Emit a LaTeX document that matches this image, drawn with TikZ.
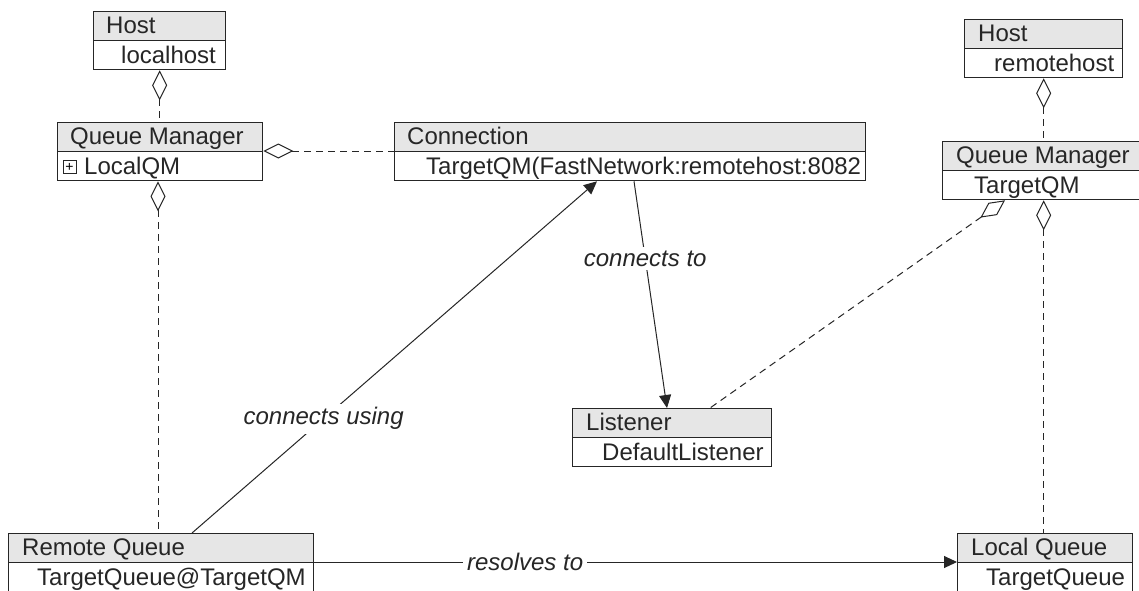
\documentclass[tikz,border=0pt]{standalone}
\usepackage{fontspec}
\setmainfont{Liberation Sans}
\usetikzlibrary{arrows.meta,calc}
\definecolor{hdr}{HTML}{E6E6E6}
\definecolor{ink}{HTML}{262626}
\tikzset{
  umlbox/.style={draw=ink, line width=1.3pt, anchor=north west, minimum height=58pt, inner sep=0pt,
    path picture={\fill[hdr] (path picture bounding box.north west) rectangle ([yshift=-29pt]path picture bounding box.north east);
      \draw[ink, line width=1.3pt] ([yshift=-29pt]path picture bounding box.north west) -- ([yshift=-29pt]path picture bounding box.north east);}},
  boxtext/.style={anchor=base west, inner sep=0pt, text=ink},
  aggr/.style={draw=ink, line width=1pt, dash pattern=on 7pt off 5pt, {Diamond[open, length=30pt, width=15pt, fill=white, line width=1pt]}-},
  assoc/.style={draw=ink, line width=1pt, -{Triangle[length=13pt, width=12pt]}},
  lbl/.style={fill=white, inner sep=4pt, text=ink, font=\fontsize{24}{28}\selectfont\itshape}
}
\begin{document}
\begin{tikzpicture}[x=1pt, y=-1pt, font=\fontsize{24}{28}\selectfont]
\clip (0,0) rectangle (1139,590);
\fill[white] (0,0) rectangle (1139,590);

% boxes
\node[umlbox, minimum width=132pt] (hostL) at (93,11) {};
\node[boxtext] (hostLt) at ([xshift=13pt,yshift=-22.5pt]hostL.north west) {Host};
\node[boxtext] (hostLv) at ([xshift=28pt,yshift=-52pt]hostL.north west) {localhost};

\node[umlbox, minimum width=205pt] (qmL) at (57,122) {};
\node[boxtext] (qmLt) at ([xshift=13pt,yshift=-22.5pt]qmL.north west) {Queue Manager};
\node[draw=ink, line width=0.7pt, minimum size=13pt, inner sep=0pt, font=\fontsize{14}{14}\selectfont] (qmLplus) at ([xshift=12.5pt,yshift=-45pt]qmL.north west) {+};
\node[boxtext] (qmLv) at ([xshift=27pt,yshift=-52pt]qmL.north west) {LocalQM};

\node[umlbox, minimum width=471pt] (conn) at (394,122) {};
\node[boxtext] (connt) at ([xshift=13pt,yshift=-22.5pt]conn.north west) {Connection};
\node[boxtext] (connv) at ([xshift=32pt,yshift=-52pt]conn.north west) {TargetQM(FastNetwork:remotehost:8082};

\node[umlbox, minimum width=158pt] (hostR) at (964,19) {};
\node[boxtext] (hostRt) at ([xshift=14pt,yshift=-22.5pt]hostR.north west) {Host};
\node[boxtext] (hostRv) at ([xshift=30pt,yshift=-52pt]hostR.north west) {remotehost};

\node[umlbox, minimum width=202pt] (qmR) at (942,141) {};
\node[boxtext] (qmRt) at ([xshift=14pt,yshift=-22.5pt]qmR.north west) {Queue Manager};
\node[boxtext] (qmRv) at ([xshift=32pt,yshift=-52pt]qmR.north west) {TargetQM};

\node[umlbox, minimum width=199pt] (lsn) at (572,408) {};
\node[boxtext] (lsnt) at ([xshift=14pt,yshift=-22.5pt]lsn.north west) {Listener};
\node[boxtext] (lsnv) at ([xshift=30pt,yshift=-52pt]lsn.north west) {DefaultListener};

\node[umlbox, minimum width=305pt] (rq) at (8,533) {};
\node[boxtext] (rqt) at ([xshift=14pt,yshift=-22.5pt]rq.north west) {Remote Queue};
\node[boxtext] (rqv) at ([xshift=29pt,yshift=-52pt]rq.north west) {TargetQueue@TargetQM};

\node[umlbox, minimum width=175pt] (lq) at (957,533) {};
\node[boxtext] (lqt) at ([xshift=14pt,yshift=-22.5pt]lq.north west) {Local Queue};
\node[boxtext] (lqv) at ([xshift=29pt,yshift=-52pt]lq.north west) {TargetQueue};

% connector end points
\coordinate (qmLdiv) at ([yshift=-29pt]qmL.north east);
\coordinate (qmLbot) at ([xshift=101pt]qmL.south west);
\coordinate (qmRd) at ([xshift=63pt]qmR.south west);
\coordinate (lsnD) at ([xshift=138pt]lsn.north west);
\coordinate (connA) at ([xshift=240pt]conn.south west);
\coordinate (lsnA) at ([xshift=95pt]lsn.north west);
\coordinate (connB) at ([xshift=203pt]conn.south west);
\coordinate (rqA) at ([xshift=184pt]rq.north west);
\coordinate (rqdiv) at ([yshift=-29pt]rq.north east);
\coordinate (lqdiv) at ([yshift=-29pt]lq.north west);

% aggregations
\draw[aggr] (hostL.south) -- (hostL.south |- qmL.north);
\draw[aggr] (qmLbot) -- (qmLbot |- rq.north);
\draw[aggr] (qmLdiv) -- (qmLdiv -| conn.west);
\draw[aggr] (hostR.south) -- (hostR.south |- qmR.north);
\draw[aggr] (qmR.south) -- (qmR.south |- lq.north);
\draw[aggr] (qmRd) -- (lsnD);

% associations
\draw[assoc] (connA) -- node[lbl, pos=0.34] (lblto) {connects to} (lsnA);
\draw[assoc] (rqA) -- node[lbl, pos=0.325] (lblusing) {connects using} (connB);
\draw[assoc] (rqdiv) -- node[lbl, pos=0.328] (lblres) {resolves to} (lqdiv);
\end{tikzpicture}
\end{document}
